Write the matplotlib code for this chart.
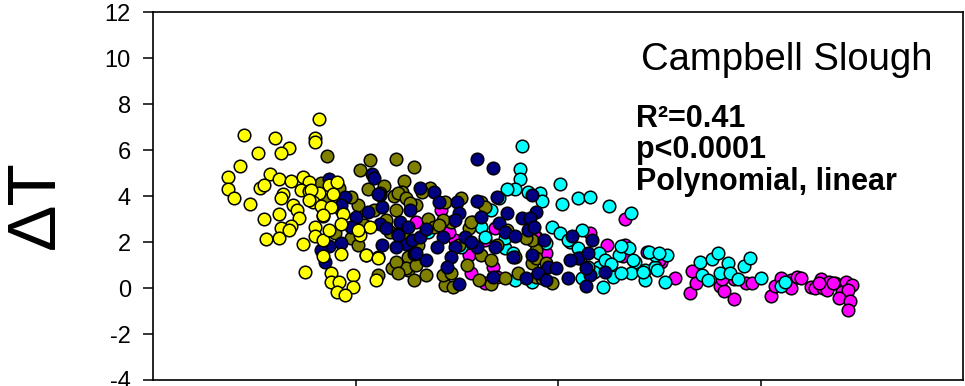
import matplotlib
matplotlib.use("Agg")
import matplotlib.pyplot as plt

plt.rcParams['font.family'] = ['Liberation Sans', 'DejaVu Sans']

# ---- data ----
yellow_x = [0.82,0.80,0.80,0.45,0.60,0.67,0.63,0.52,0.43,0.37,0.37,0.40,0.48,0.58,0.62,0.68,0.53,0.55,
            0.74,0.77,0.73,0.77,0.82,0.87,0.91,0.89,0.64,0.63,0.69,0.71,0.79,0.83,0.88,0.62,0.55,0.72,
            0.84,0.94,0.68,0.63,0.80,0.93,0.56,0.62,0.80,0.84,1.02,1.07,0.84,0.93,1.05,1.11,0.75,0.88,
            0.99,0.88,0.92,0.99,0.91,0.95,1.10,0.78,0.87,0.84,0.77,0.74,0.67,1.01]
yellow_y = [7.35,6.55,6.35,6.65,6.52,6.09,5.87,5.87,5.30,4.83,4.30,3.91,3.65,4.96,4.74,4.65,4.35,4.48,
            4.83,4.61,4.26,4.22,4.13,4.48,4.61,4.09,4.09,3.91,3.61,3.39,3.74,3.57,3.52,3.22,3.00,3.04,
            3.13,3.22,2.70,2.61,2.65,2.78,2.13,2.17,2.26,2.09,2.30,2.65,1.39,1.48,1.43,1.30,0.70,0.65,
            0.57,0.26,0.26,0.04,-0.17,-0.30,0.35,4.26,2.52,3.17,3.83,1.91,2.52,2.52]

olive_x = [0.86,1.07,1.02,1.20,1.29,1.06,1.14,1.24,1.19,1.23,1.01,1.20,1.15,1.11,1.18,1.11,1.26,1.29,
           1.05,0.98,0.90,0.93,0.83,0.92,0.98,0.85,1.12,1.21,1.25,1.30,1.37,1.44,1.52,1.62,1.64,1.36,
           1.39,1.47,1.56,1.43,1.15,1.17,1.24,1.26,1.25,1.20,1.35,1.30,1.44,1.48,1.43,1.47,1.55,1.62,
           1.67,1.74,1.67,1.80,1.87,1.89,1.87,1.84,1.89,1.89,1.94,1.97,1.92,1.27,1.41,1.57,1.79,1.21,
           1.61,1.01,1.04,1.09,1.31,1.51,1.70,1.75,1.33]
olive_y = [5.74,5.57,5.13,5.61,5.26,4.30,4.43,4.65,4.00,4.17,3.61,3.39,2.65,1.35,0.87,0.57,0.78,0.35,
           1.43,2.17,2.39,3.39,4.57,4.35,3.96,3.83,4.13,4.13,3.91,3.61,4.35,3.74,3.91,3.74,3.52,3.00,
           2.65,2.87,2.61,2.96,2.96,2.43,2.22,1.35,0.87,1.13,0.57,1.00,0.13,0.04,0.57,0.65,1.00,1.43,
           1.22,0.43,0.17,0.65,1.09,1.65,2.09,2.17,0.48,1.30,1.09,0.22,0.43,3.70,2.74,2.87,1.35,0.65,
           0.35,1.87,2.74,3.39,1.87,1.87,1.87,2.52,4.17]

navy_x = [0.87,1.08,1.09,1.12,1.13,0.95,0.93,1.00,1.06,1.12,1.15,1.22,1.27,1.21,1.25,1.29,1.20,1.13,
          0.87,0.83,0.85,0.93,0.98,1.60,1.68,1.32,1.39,1.41,1.50,1.51,1.60,1.70,1.26,1.21,1.28,1.32,
          1.35,1.43,1.40,1.49,1.47,1.54,1.62,1.71,1.75,1.82,1.85,1.87,1.74,1.69,1.60,1.78,1.68,1.84,
          1.51,1.45,1.35,1.30,1.49,1.57,1.79,1.87,1.89,1.86,1.88,1.93,1.95,1.99,1.90,2.05,2.07,2.10,
          2.15,2.16,2.14,2.23,2.17,2.06,2.14,1.94,1.11]
navy_y = [4.74,4.96,4.78,4.04,3.52,3.96,3.61,3.09,3.30,2.78,2.61,2.87,3.39,2.35,1.91,1.48,1.78,1.87,
          1.83,1.65,1.13,1.96,2.65,5.61,5.22,4.35,4.17,3.74,3.74,3.26,3.78,3.96,2.65,2.30,2.09,2.22,
          2.57,2.22,1.78,1.78,1.35,2.22,3.09,2.83,3.26,3.04,2.52,4.04,2.43,1.78,1.78,1.35,0.48,0.43,
          0.17,0.91,1.22,1.52,2.96,2.00,2.26,1.43,3.30,3.04,2.65,2.09,0.91,0.87,0.65,0.43,2.26,1.30,
          1.52,0.57,0.09,0.70,2.09,1.22,0.87,0.35,4.09]

cyan_x = [1.82,1.81,1.81,1.79,1.75,1.85,1.91,1.92,2.01,2.10,2.16,2.02,2.25,2.36,1.97,2.01,2.12,2.06,
          2.10,2.11,2.20,2.25,2.30,2.35,2.38,2.43,2.48,2.53,2.54,2.20,2.22,2.12,2.27,2.36,2.43,2.48,
          1.94,1.36,1.58,1.62,1.64,1.52,1.67,1.71,1.74,1.78,1.79,1.87,1.74,2.31,2.37,2.45,2.50,2.23,
          2.18,2.31,2.42,2.49,2.70,2.76,2.79,2.84,2.71,2.74,2.80,2.85,2.89,2.92,2.95,3.00,3.10,3.12,
          2.15,2.26,2.05]
cyan_y = [6.17,5.17,4.74,4.30,4.30,4.17,4.13,3.78,4.52,3.91,3.96,3.65,3.57,3.26,2.65,2.39,2.52,2.00,
          1.74,1.30,1.52,1.04,1.43,1.74,1.13,0.78,0.91,0.26,1.43,0.91,0.04,0.43,0.48,0.65,0.35,1.43,
          1.96,2.43,2.87,2.65,2.22,1.78,3.39,3.91,1.74,1.52,0.35,0.26,2.17,1.83,1.22,1.57,1.52,1.22,
          0.70,0.65,0.70,0.78,1.13,1.26,1.52,1.09,0.57,0.35,0.65,0.65,0.39,0.96,1.30,0.43,0.09,0.26,
          0.91,1.04,2.09]

magenta_x = [1.42,1.57,1.69,1.89,2.24,2.33,2.33,2.44,2.58,2.16,1.94,1.30,1.49,1.64,1.68,1.70,1.64,1.46,
             2.32,2.51,2.65,2.66,1.88,2.50,2.48,2.80,2.82,2.87,2.87,2.93,2.96,3.05,3.07,3.10,3.15,3.18,
             3.20,3.15,3.25,3.27,3.30,3.31,3.34,3.37,3.42,3.45,3.40,3.43,3.39,3.44,3.43,3.33,3.29,3.36,
             2.81,2.68,1.56]
magenta_y = [3.39,0.65,2.61,2.22,1.87,1.87,3.00,1.57,0.43,2.39,1.52,2.87,2.09,2.09,0.91,0.48,0.22,2.43,
             1.39,1.13,-0.22,0.74,2.30,1.22,0.91,0.09,-0.13,-0.48,0.39,0.22,0.22,-0.35,0.09,0.43,0.35,0.48,
             0.43,0.00,0.04,0.00,0.39,0.00,0.26,0.22,0.26,0.13,-0.17,-0.09,-0.43,-0.57,-0.96,-0.09,0.22,0.22,
             0.39,0.22,1.43]

y_ticks = [-4, -2, 0, 2, 4, 6, 8, 10, 12]
x_ticks = [1, 2, 3]

title_text = "Campbell Slough"
stats_lines = ["R\u00b2=0.41", "p<0.0001", "Polynomial, linear"]
y_label = "\u0394T"

# ---- figure ----
fig = plt.figure(figsize=(9.65, 3.86), dpi=100)
ax = fig.add_axes([153/965, 1 - 380/386, 810/965, 367.5/386])

series = [
    (magenta_x, magenta_y, "#FF00FF"),
    (cyan_x, cyan_y, "#00FFFF"),
    (olive_x, olive_y, "#808000"),
    (navy_x, navy_y, "#000080"),
    (yellow_x, yellow_y, "#FFFF00"),
]
for xs, ys, c in series:
    ax.scatter(xs, ys, s=82, c=c, edgecolors="black", linewidths=1.1, zorder=3)

ax.set_xlim(0, 4)
ax.set_ylim(-4, 12)
ax.set_yticks(y_ticks)
ax.set_yticklabels([str(t) for t in y_ticks], fontsize=17)
ax.set_xticks(x_ticks)
ax.set_xticklabels([])
ax.tick_params(axis="both", direction="out", length=7, width=1.1, color="black")
ax.tick_params(axis="y", pad=9)
for sp in ax.spines.values():
    sp.set_linewidth(1.2)
    sp.set_color("black")

ax.text(0.783, 0.8435, title_text, transform=ax.transAxes, ha="center", va="baseline",
        fontsize=27.5, color="black")
for txt, yb in zip(stats_lines, [0.688, 0.604, 0.517]):
    ax.text(0.596, yb, txt, transform=ax.transAxes, ha="left", va="baseline",
            fontsize=22, fontweight="bold", color="black")

fig.text(36/965, 1 - 205/386, y_label, rotation=90, ha="center", va="center", fontsize=50)

fig.savefig("out.png", dpi=100)
